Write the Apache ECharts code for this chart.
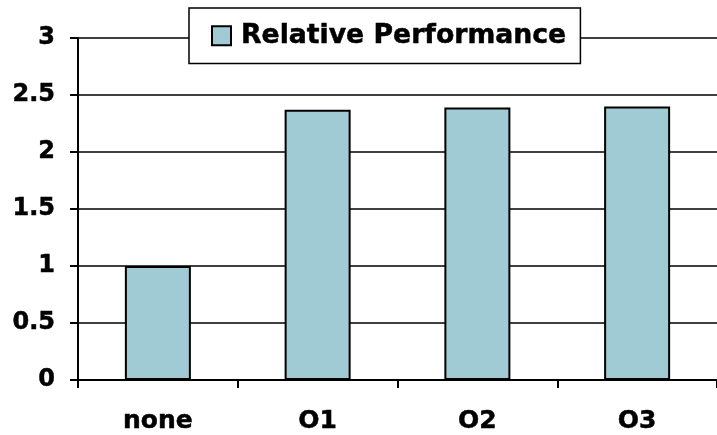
<!DOCTYPE html>
<html>
<head>
<meta charset="utf-8">
<script src="https://cdn.jsdelivr.net/npm/echarts@6/dist/echarts.min.js"></script>
<style>html,body{margin:0;padding:0;background:#fff}#c{width:717px;height:435px}</style>
</head>
<body>
<div id="c"></div>
<script>
var categories = ['none', 'O1', 'O2', 'O3'];
var seriesName = 'Relative Performance';
var values = [1.0, 2.37, 2.39, 2.40];
var yTicks = [0, 0.5, 1, 1.5, 2, 2.5, 3];

var FONT = 'DejaVu Sans';
var chart = echarts.init(document.getElementById('c'), null, {renderer: 'canvas'});
chart.setOption({
  animation: false,
  backgroundColor: '#ffffff',
  grid: {left: 78, top: 38, bottom: 55, right: -5, containLabel: false},
  legend: {
    left: 189, top: 8,
    padding: [14, 14, 14, 22],
    backgroundColor: '#ffffff',
    borderColor: '#000', borderWidth: 1.5,
    itemWidth: 19, itemHeight: 19, icon: 'rect',
    textStyle: {fontFamily: FONT, fontWeight: 'bold', fontSize: 26.7, lineHeight: 27, color: '#000',
      padding: [0,0,0,5], textBorderColor: '#000', textBorderWidth: 0.5},
    data: [seriesName]
  },
  xAxis: {
    type: 'category', data: categories,
    axisLine: {lineStyle: {color: '#000', width: 2}},
    axisTick: {show: true, length: 8, lineStyle: {color: '#000', width: 2}},
    axisLabel: {fontFamily: FONT, fontWeight: 'bold', fontSize: 25, color: '#000', margin: 29,
      textBorderColor: '#000', textBorderWidth: 0.5}
  },
  yAxis: {
    type: 'value', min: yTicks[0], max: yTicks[yTicks.length-1], interval: 0.5,
    axisLine: {show: true, lineStyle: {color: '#000', width: 2}},
    axisTick: {show: true, length: 8, lineStyle: {color: '#000', width: 2}},
    splitLine: {show: true, lineStyle: {color: '#000', width: 1.5}},
    axisLabel: {fontFamily: FONT, fontWeight: 'bold', fontSize: 24, color: '#000', margin: 23,
      textBorderColor: '#000', textBorderWidth: 0.5}
  },
  series: [{
    name: seriesName, type: 'bar', data: values,
    barWidth: 66,
    itemStyle: {color: '#A0CBD4', borderColor: '#000', borderWidth: 2}
  }]
});
</script>
</body>
</html>
